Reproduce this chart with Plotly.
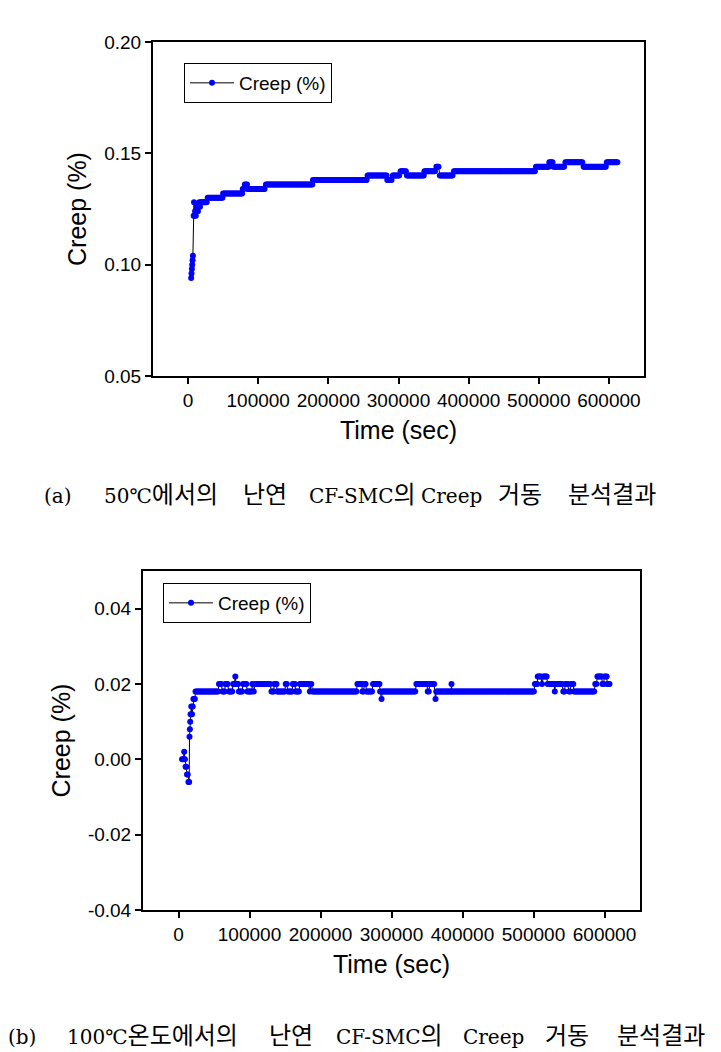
import numpy as np
import plotly.graph_objects as go

# ---------------- data ----------------
SAMPLE_STEP = 1500  # logger interval (s) used to fill each plateau

# (a) 50 C
A_EARLY_T = [4400, 4900, 5400, 5900, 6400, 6900, 8000, 8500, 9000, 10000, 11000,
             12000, 13000, 14000, 15000, 16000, 17000, 18000]
A_EARLY_V = [0.094, 0.096, 0.098, 0.100, 0.102, 0.104, 0.122, 0.128, 0.122, 0.124,
             0.122, 0.124, 0.126, 0.124, 0.126, 0.128, 0.126, 0.128]
A_SEG_START = [19000, 28000, 50000, 78000, 81000, 85000, 111000, 178000, 256000,
               284000, 292000, 303000, 312000, 337000, 354000, 359000, 379000,
               496000, 515000, 521000, 538000, 564000, 597000]
A_SEG_END = [27000, 49000, 77000, 80000, 84000, 110000, 177000, 255000, 283000,
             291000, 302000, 311000, 336000, 353000, 358000, 378000, 495000,
             514000, 520000, 537000, 563000, 596000, 612000]
A_SEG_LEVEL = [0.128, 0.130, 0.132, 0.134, 0.136, 0.134, 0.136, 0.138, 0.140,
               0.138, 0.140, 0.142, 0.140, 0.142, 0.144, 0.140, 0.142,
               0.144, 0.146, 0.144, 0.146, 0.144, 0.146]

# (b) 100 C
B_EARLY_T = [5000, 6500, 8000, 9000, 10000, 11000, 12000, 13000, 14000, 15000,
             15500, 16000, 16500, 17000, 18000, 19000, 20000, 21000, 22000, 23000]
B_EARLY_V = [0.000, 0.000, 0.002, 0.000, -0.002, -0.002, -0.004, -0.004, -0.006, -0.006,
             0.006, 0.008, 0.010, 0.012, 0.014, 0.012, 0.014, 0.016, 0.016, 0.016]
B_SEG_START = [24000, 57000, 62000, 66000, 71000, 77000, 80000, 81000, 85000, 91000,
               97000, 104000, 106000, 108000, 131000, 135000, 139000, 151000, 154000,
               161000, 165000, 171000, 185000, 187000, 189000, 252000, 259000, 262000,
               265000, 274000, 284000, 286000, 287000, 335000, 351000, 354000, 362000,
               363000, 384500, 385000, 502000, 506000, 512000, 514000, 520000, 530000,
               531000, 542000, 545000, 550000, 553000, 557000, 587000, 590000, 597000,
               600000, 604000]
B_SEG_END = [56000, 61000, 65000, 70000, 76000, 79000, 80000, 84000, 90000, 96000,
             103000, 105000, 107000, 130000, 134000, 138000, 150000, 153000, 160000,
             164000, 170000, 184000, 186000, 188000, 251000, 258000, 261000, 264000,
             273000, 283000, 285000, 286000, 334000, 350000, 353000, 361000, 362000,
             384000, 384500, 501000, 505000, 511000, 513000, 519000, 529000, 530000,
             541000, 544000, 549000, 552000, 556000, 586000, 589000, 596000, 599000,
             603000, 608000]
B_SEG_LEVEL = [0.018, 0.020, 0.018, 0.020, 0.018, 0.020, 0.022, 0.020, 0.018, 0.020,
               0.018, 0.020, 0.018, 0.020, 0.018, 0.020, 0.018, 0.020, 0.018,
               0.020, 0.018, 0.020, 0.018, 0.020, 0.018, 0.020, 0.018, 0.020,
               0.018, 0.020, 0.018, 0.016, 0.018, 0.020, 0.018, 0.020, 0.016,
               0.018, 0.020, 0.018, 0.020, 0.022, 0.020, 0.022, 0.020, 0.018,
               0.020, 0.018, 0.020, 0.018, 0.020, 0.018, 0.020, 0.022, 0.020,
               0.022, 0.020]

X_TICKS = [0, 100000, 200000, 300000, 400000, 500000, 600000]
X_TICK_TEXT = ["0", "100000", "200000", "300000", "400000", "500000", "600000"]
A_Y_TICKS = [0.05, 0.10, 0.15, 0.20]
A_Y_TICK_TEXT = ["0.05", "0.10", "0.15", "0.20"]
B_Y_TICKS = [-0.04, -0.02, 0.00, 0.02, 0.04]
B_Y_TICK_TEXT = ["-0.04", "-0.02", "0.00", "0.02", "0.04"]

SERIES_NAME = "Creep (%)"
X_TITLE = "Time (sec)"
Y_TITLE = "Creep (%)"
CAPTION_A_WORDS = ["(a)", "50\u2103에서의", "난연", "CF-SMC의", "Creep", "거동", "분석결과"]
CAPTION_B_WORDS = ["(b)", "100\u2103온도에서의", "난연", "CF-SMC의", "Creep", "거동", "분석결과"]

# ---------------- layout (pixel positions) ----------------
CAPTION_A_CENTERS = [58, 161, 265, 362, 451, 520, 612]
CAPTION_B_CENTERS = [22, 152, 291, 389, 493, 567, 661]
CAPTION_A_Y = 492
CAPTION_B_Y = 1033


def build(early_t, early_v, starts, ends, levels):
    t = list(early_t)
    v = list(early_v)
    for s, e, lv in zip(starts, ends, levels):
        pts = np.arange(s, e + 1, SAMPLE_STEP) if e > s else np.array([s])
        t.extend(pts.tolist())
        v.extend([lv] * len(pts))
    return t, v


at, av = build(A_EARLY_T, A_EARLY_V, A_SEG_START, A_SEG_END, A_SEG_LEVEL)
bt, bv = build(B_EARLY_T, B_EARLY_V, B_SEG_START, B_SEG_END, B_SEG_LEVEL)

W, H = 721, 1052
FONT = "Liberation Sans, Arial, sans-serif"
LATIN_SERIF = "DejaVu Serif, Liberation Serif, serif"
HANGUL_FONT = "Noto Sans CJK KR"
HANGUL_SIZE = 24
LATIN_SIZE = 20

fig = go.Figure()
trace_style = dict(mode="lines+markers",
                   line=dict(color="black", width=1),
                   marker=dict(color="#0000FF", size=6, line=dict(width=0)),
                   name=SERIES_NAME)
fig.add_trace(go.Scatter(x=at, y=av, xaxis="x", yaxis="y", legend="legend", **trace_style))
fig.add_trace(go.Scatter(x=bt, y=bv, xaxis="x2", yaxis="y2", legend="legend2", **trace_style))


def px_x(p):
    return p / W


def px_y(p):
    return (H - p) / H


axis_common = dict(showgrid=False, zeroline=False, showline=True, linecolor="black",
                   linewidth=2, mirror=True, ticks="outside", ticklen=6, tickwidth=2,
                   tickcolor="black", tickfont=dict(family=FONT, size=19, color="black"),
                   automargin=False)
title_font = dict(family=FONT, size=25, color="black")
legend_common = dict(xanchor="left", yanchor="top", bordercolor="black", borderwidth=1,
                     bgcolor="white", itemwidth=44,
                     font=dict(family=FONT, size=19, color="black"))


def is_hangul(ch):
    return '\uac00' <= ch <= '\ud7a3'


def rich(word):
    out, run, run_h = [], "", None
    for ch in word + "\0":
        h = is_hangul(ch) if ch != "\0" else None
        if run and (h != run_h):
            if run_h:
                out.append('<span style="font-family:%s;font-size:%dpx">%s</span>'
                           % (HANGUL_FONT, HANGUL_SIZE, run))
            else:
                out.append(run)
            run = ""
        run += ch if ch != "\0" else ""
        run_h = h
    return "".join(out)


annotations = []
for words, centers, ypix in ((CAPTION_A_WORDS, CAPTION_A_CENTERS, CAPTION_A_Y),
                             (CAPTION_B_WORDS, CAPTION_B_CENTERS, CAPTION_B_Y)):
    for w, cx in zip(words, centers):
        has_hangul = any(is_hangul(c) for c in w)
        annotations.append(dict(
            text=rich(w), x=px_x(cx), y=px_y(ypix), xref="paper", yref="paper",
            xanchor="center", yanchor="middle", showarrow=False,
            yshift=0 if has_hangul else -4,
            font=dict(family=LATIN_SERIF, size=LATIN_SIZE, color="black")))

fig.update_layout(
    width=W, height=H, margin=dict(l=0, r=0, t=0, b=0),
    paper_bgcolor="white", plot_bgcolor="white",
    showlegend=True,
    xaxis=dict(domain=[px_x(153), px_x(644)], range=[-50000, 650000], anchor="y",
               tickvals=X_TICKS, ticktext=X_TICK_TEXT,
               title=dict(text=X_TITLE, font=title_font, standoff=12),
               **axis_common),
    yaxis=dict(domain=[px_y(376), px_y(42)], range=[0.05, 0.20], anchor="x",
               tickvals=A_Y_TICKS, ticktext=A_Y_TICK_TEXT,
               title=dict(text=Y_TITLE, font=title_font, standoff=10),
               **axis_common),
    xaxis2=dict(domain=[px_x(143), px_x(640)], range=[-50000, 650000], anchor="y2",
                tickvals=X_TICKS, ticktext=X_TICK_TEXT,
                title=dict(text=X_TITLE, font=title_font, standoff=12),
                **axis_common),
    yaxis2=dict(domain=[px_y(910), px_y(571)], range=[-0.04, 0.05], anchor="x2",
                tickvals=B_Y_TICKS, ticktext=B_Y_TICK_TEXT,
                title=dict(text=Y_TITLE, font=title_font, standoff=10),
                **axis_common),
    legend=dict(x=px_x(184), y=px_y(63), **legend_common),
    legend2=dict(x=px_x(163), y=px_y(583), **legend_common),
    annotations=annotations,
)

fig.write_html("out.html")
